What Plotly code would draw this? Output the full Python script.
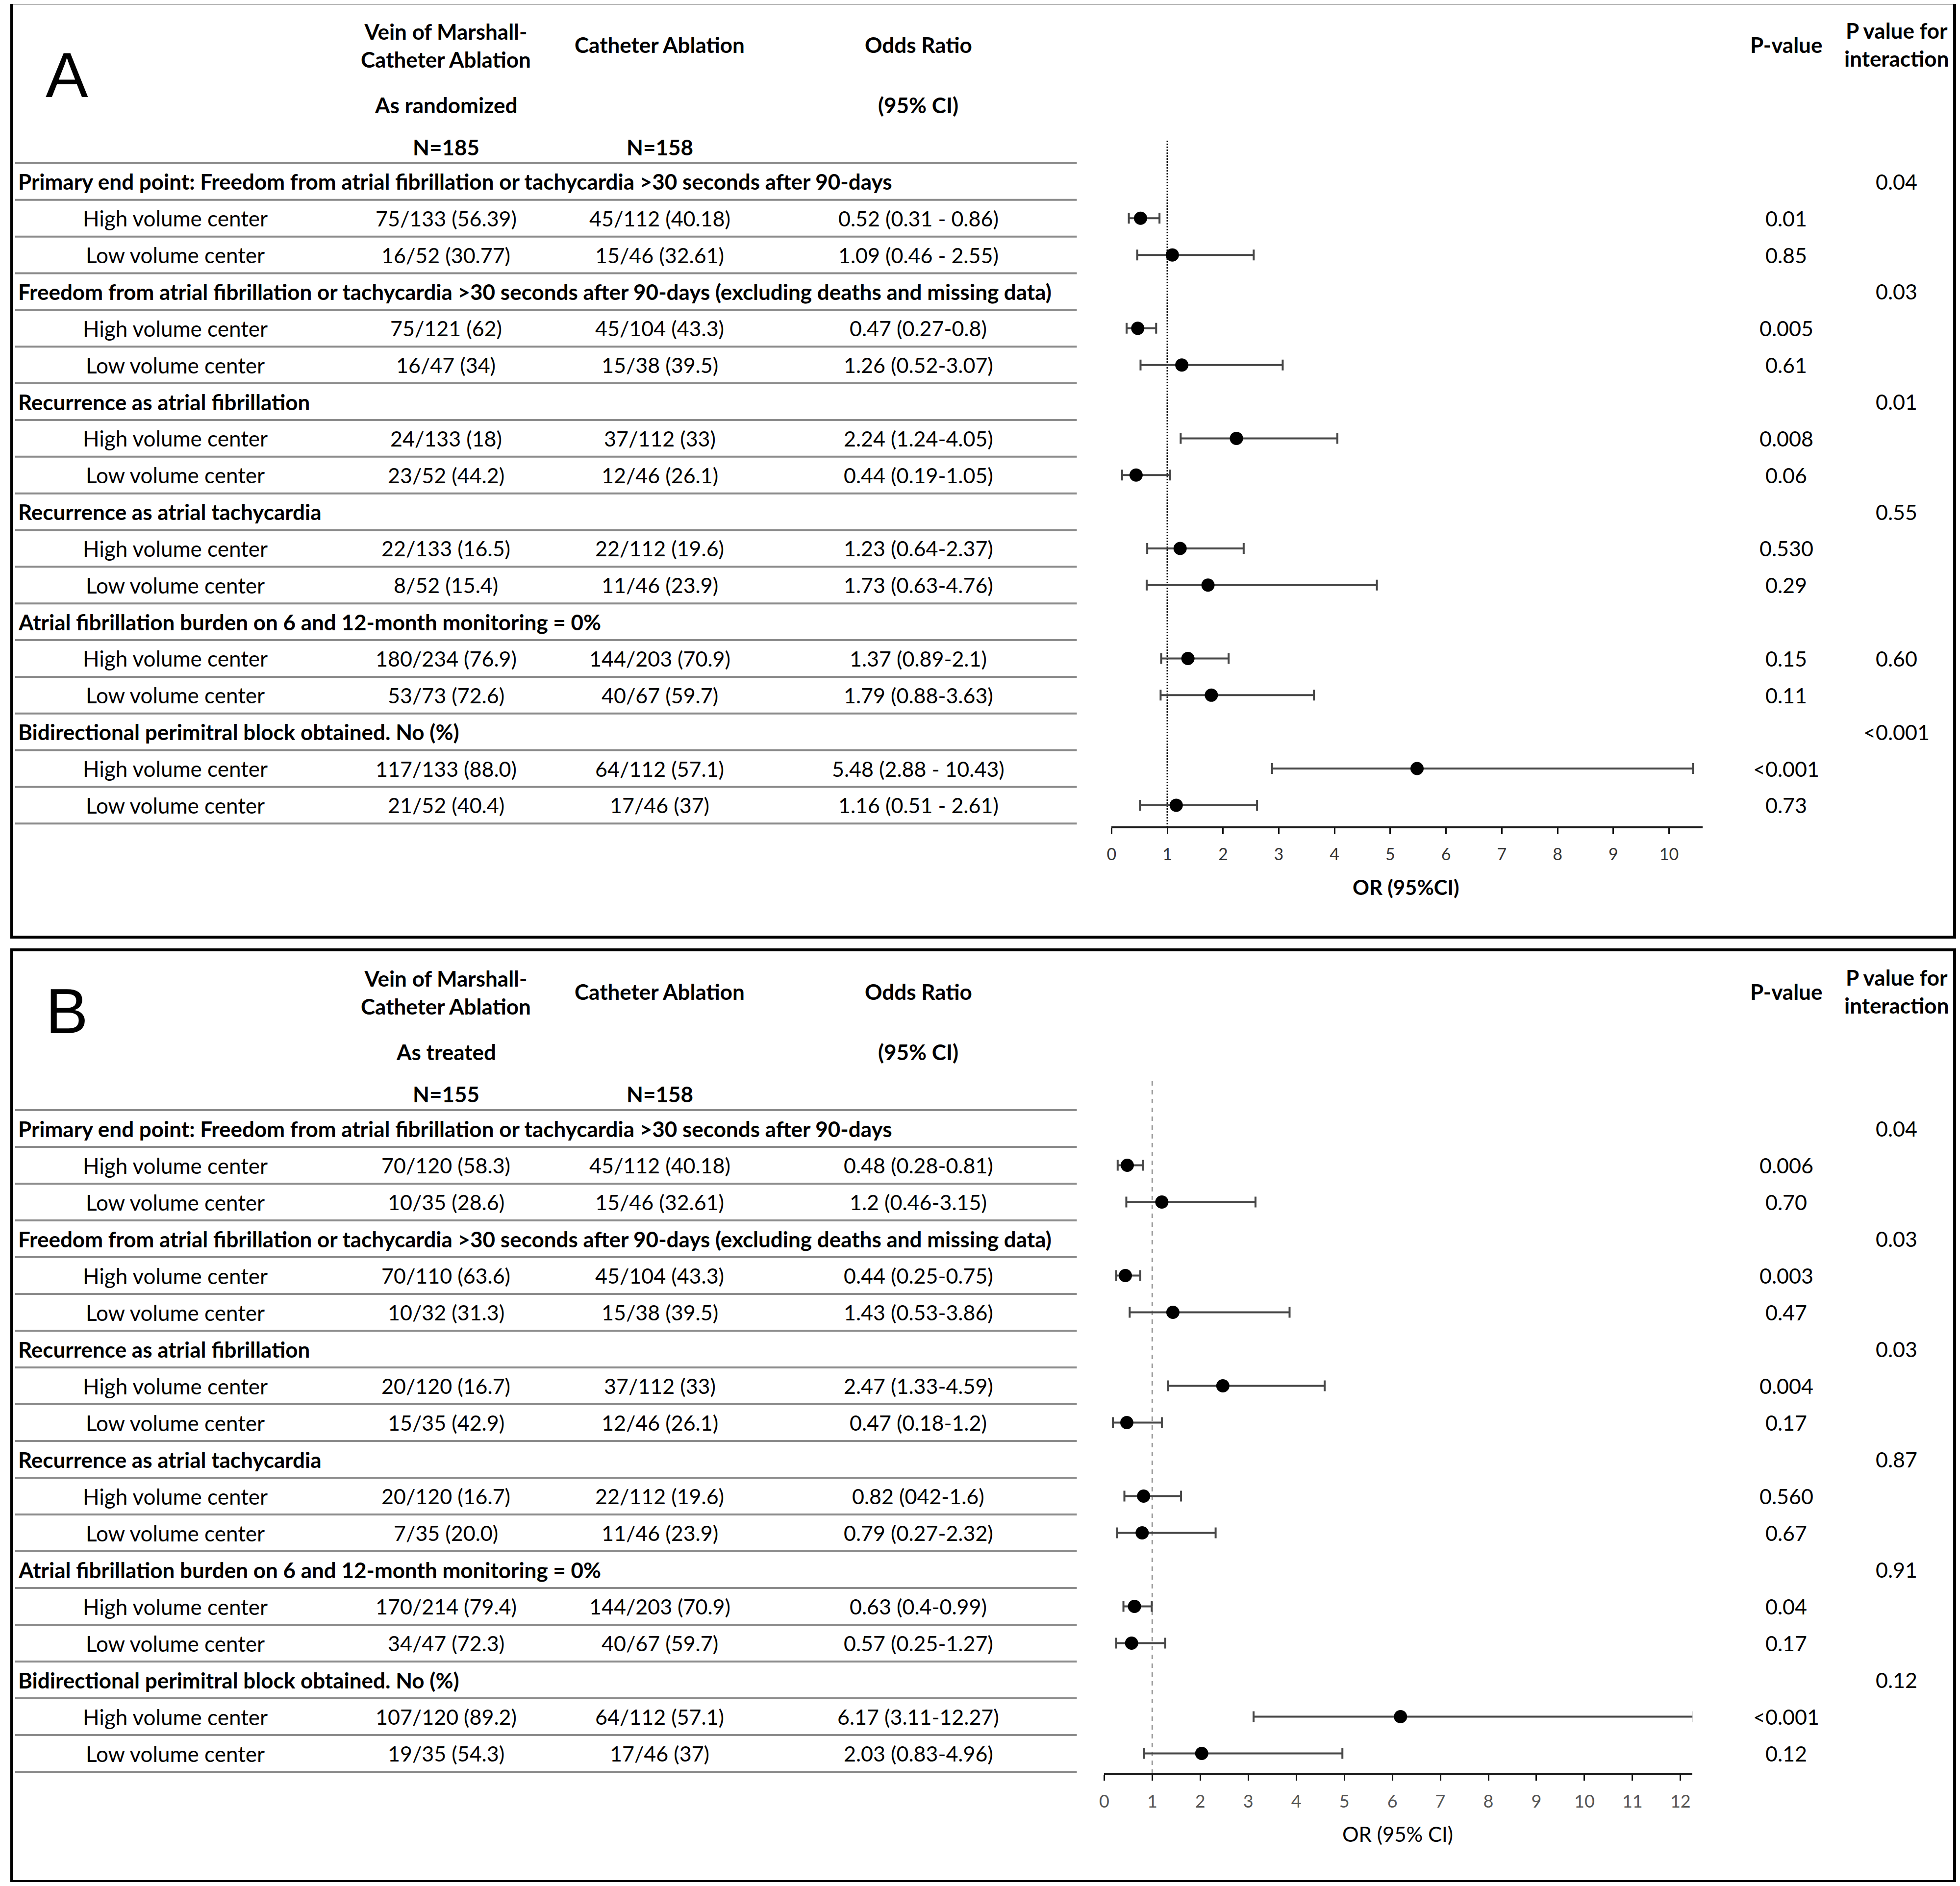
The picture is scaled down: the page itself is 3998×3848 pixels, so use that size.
import plotly.graph_objects as go

# page size and the 8px body margin of the html page
PAGE_W, PAGE_H = 3998, 3848
OFF = 8
W, H = PAGE_W - 2 * OFF, PAGE_H - 2 * OFF

# ---------------- data ----------------
groups = [
    "Primary end point: Freedom from atrial fibrillation or tachycardia &gt;30 seconds after 90-days",
    "Freedom from atrial fibrillation or tachycardia &gt;30 seconds after 90-days (excluding deaths and missing data)",
    "Recurrence as atrial fibrillation",
    "Recurrence as atrial tachycardia",
    "Atrial fibrillation burden on 6 and 12-month monitoring = 0%",
    "Bidirectional perimitral block obtained. No (%)",
]
subgroups = ["High volume center", "Low volume center"]

# Panel A: as randomized
a_vom = ["75/133 (56.39)", "16/52 (30.77)", "75/121 (62)", "16/47 (34)",
         "24/133 (18)", "23/52 (44.2)", "22/133 (16.5)", "8/52 (15.4)",
         "180/234 (76.9)", "53/73 (72.6)", "117/133 (88.0)", "21/52 (40.4)"]
a_ca = ["45/112 (40.18)", "15/46 (32.61)", "45/104 (43.3)", "15/38 (39.5)",
        "37/112 (33)", "12/46 (26.1)", "22/112 (19.6)", "11/46 (23.9)",
        "144/203 (70.9)", "40/67 (59.7)", "64/112 (57.1)", "17/46 (37)"]
a_or_text = ["0.52 (0.31 - 0.86)", "1.09 (0.46 - 2.55)", "0.47 (0.27-0.8)", "1.26 (0.52-3.07)",
             "2.24 (1.24-4.05)", "0.44 (0.19-1.05)", "1.23 (0.64-2.37)", "1.73 (0.63-4.76)",
             "1.37 (0.89-2.1)", "1.79 (0.88-3.63)", "5.48 (2.88 - 10.43)", "1.16 (0.51 - 2.61)"]
a_or = [0.52, 1.09, 0.47, 1.26, 2.24, 0.44, 1.23, 1.73, 1.37, 1.79, 5.48, 1.16]
a_lo = [0.31, 0.46, 0.27, 0.52, 1.24, 0.19, 0.64, 0.63, 0.89, 0.88, 2.88, 0.51]
a_hi = [0.86, 2.55, 0.80, 3.07, 4.05, 1.05, 2.37, 4.76, 2.10, 3.63, 10.43, 2.61]
a_p = ["0.01", "0.85", "0.005", "0.61", "0.008", "0.06", "0.530", "0.29",
       "0.15", "0.11", "&lt;0.001", "0.73"]
a_pint = ["0.04", "0.03", "0.01", "0.55", "0.60", "&lt;0.001"]
a_pint_row = ["group", "group", "group", "group", "high", "group"]

# Panel B: as treated
b_vom = ["70/120 (58.3)", "10/35 (28.6)", "70/110 (63.6)", "10/32 (31.3)",
         "20/120 (16.7)", "15/35 (42.9)", "20/120 (16.7)", "7/35 (20.0)",
         "170/214 (79.4)", "34/47 (72.3)", "107/120 (89.2)", "19/35 (54.3)"]
b_ca = ["45/112 (40.18)", "15/46 (32.61)", "45/104 (43.3)", "15/38 (39.5)",
        "37/112 (33)", "12/46 (26.1)", "22/112 (19.6)", "11/46 (23.9)",
        "144/203 (70.9)", "40/67 (59.7)", "64/112 (57.1)", "17/46 (37)"]
b_or_text = ["0.48 (0.28-0.81)", "1.2 (0.46-3.15)", "0.44 (0.25-0.75)", "1.43 (0.53-3.86)",
             "2.47 (1.33-4.59)", "0.47 (0.18-1.2)", "0.82 (042-1.6)", "0.79 (0.27-2.32)",
             "0.63 (0.4-0.99)", "0.57 (0.25-1.27)", "6.17 (3.11-12.27)", "2.03 (0.83-4.96)"]
b_or = [0.48, 1.20, 0.44, 1.43, 2.47, 0.47, 0.82, 0.79, 0.63, 0.57, 6.17, 2.03]
b_lo = [0.28, 0.46, 0.25, 0.53, 1.33, 0.18, 0.42, 0.27, 0.40, 0.25, 3.11, 0.83]
b_hi = [0.81, 3.15, 0.75, 3.86, 4.59, 1.20, 1.60, 2.32, 0.99, 1.27, 12.27, 4.96]
b_p = ["0.006", "0.70", "0.003", "0.47", "0.004", "0.17", "0.560", "0.67",
       "0.04", "0.17", "&lt;0.001", "0.12"]
b_pint = ["0.04", "0.03", "0.03", "0.87", "0.91", "0.12"]
b_pint_row = ["group", "group", "group", "group", "group", "group"]

# ---------------- layout helpers ----------------
FONT = "Lato"
annotations = []
shapes = []


def px(x):
    return (x - OFF) / W


def py(y):
    return 1 - (y - OFF) / H


def txt(x, y, s, size=43, bold=False, anchor="center", color="black", family=FONT):
    annotations.append(dict(
        x=px(x), y=py(y), xref="paper", yref="paper",
        text=("<b>" + s + "</b>") if bold else s,
        showarrow=False, xanchor=anchor, yanchor="middle", align="center",
        font=dict(family=family, size=size, color=color)))


panels = [
    dict(letter="A", letter_y=153, box=(6, 1912), T=333, step=74.85, sub="As randomized",
         n1="N=185", n2="N=158",
         vom=a_vom, ca=a_ca, ortext=a_or_text, orv=a_or, lo=a_lo, hi=a_hi, p=a_p,
         pint=a_pint, pint_row=a_pint_row,
         ax0=2263, unit=114.0, xmax=10.6, ticks=list(range(0, 11)), axis_y=1688,
         ref_top=286, ref_dash="dot", ref_color="black",
         tick_color="#333333", tick_size=34, xtitle="OR (95%CI)", xtitle_bold=True,
         xtitle_x=2865, xtitle_y=1810),
    dict(letter="B", letter_y=2063, box=(1938, 3839), T=2265, step=75.0, sub="As treated",
         n1="N=155", n2="N=158",
         vom=b_vom, ca=b_ca, ortext=b_or_text, orv=b_or, lo=b_lo, hi=b_hi, p=b_p,
         pint=b_pint, pint_row=b_pint_row,
         ax0=2248, unit=98.2, xmax=12.25, ticks=list(range(0, 13)), axis_y=3619,
         ref_top=2200, ref_dash="dash", ref_color="#9a9a9a",
         tick_color="#555555", tick_size=36, xtitle="OR (95% CI)", xtitle_bold=False,
         xtitle_x=2848, xtitle_y=3742),
]

COL_LABEL, COL_VOM, COL_CA, COL_OR, COL_P, COL_PINT = 348, 902, 1339, 1868, 3643, 3868
traces = []
layout_axes = {}

for i, P in enumerate(panels):
    T, step = P["T"], P["step"]
    # panel border
    y0, y1 = P["box"]
    shapes.append(dict(type="rect", xref="paper", yref="paper",
                       x0=px(14), x1=px(3987), y0=py(y0), y1=py(y1),
                       line=dict(color="black", width=6), layer="above"))
    # letter
    txt(127, P["letter_y"], P["letter"], size=130, family="Liberation Sans")
    # headers
    txt(COL_VOM, T - 241, "Vein of Marshall-<br>Catheter Ablation", size=44, bold=True)
    txt(COL_CA, T - 242, "Catheter Ablation", size=44, bold=True)
    txt(COL_OR, T - 242, "Odds Ratio", size=44, bold=True)
    txt(COL_VOM, T - 119, P["sub"], size=44, bold=True)
    txt(COL_OR, T - 119, "(95% CI)", size=44, bold=True)
    txt(COL_VOM, T - 33, P["n1"], size=44, bold=True)
    txt(COL_CA, T - 33, P["n2"], size=44, bold=True)
    txt(COL_P, T - 242, "P-value", size=44, bold=True)
    txt(COL_PINT, T - 243, "P value for<br>interaction", size=44, bold=True)

    # table lines
    for k in range(19):
        yl = T + step * k
        shapes.append(dict(type="line", xref="paper", yref="paper",
                           x0=px(21), x1=px(2192), y0=py(yl), y1=py(yl),
                           line=dict(color="#8c8c8c", width=4)))

    ycen = []
    for g, gname in enumerate(groups):
        yg = T + step * (3 * g + 0.5)
        txt(25, yg, gname, size=44, bold=True, anchor="left")
        for s, sname in enumerate(subgroups):
            r = 2 * g + s
            yr = T + step * (3 * g + 1.5 + s)
            ycen.append(3 * g + 1.5 + s)
            txt(COL_LABEL, yr, sname, size=44)
            txt(COL_VOM, yr, P["vom"][r])
            txt(COL_CA, yr, P["ca"][r])
            txt(COL_OR, yr, P["ortext"][r])
            txt(COL_P, yr, P["p"][r])
        yint = yg if P["pint_row"][g] == "group" else T + step * (3 * g + 1.5)
        txt(COL_PINT, yint, P["pint"][g])

    # forest plot axes
    xa = "xaxis" if i == 0 else "xaxis2"
    ya = "yaxis" if i == 0 else "yaxis2"
    xref = "x" if i == 0 else "x2"
    yref = "y" if i == 0 else "y2"
    x_end = P["ax0"] + P["unit"] * P["xmax"]
    layout_axes[xa] = dict(
        domain=[px(P["ax0"]), px(x_end)], range=[0, P["xmax"]],
        anchor="free", position=py(P["axis_y"]),
        tickmode="array", tickvals=P["ticks"], ticktext=[str(t) for t in P["ticks"]],
        ticks="outside", ticklen=12, tickwidth=3, tickcolor="#111111",
        showline=True, linewidth=4, linecolor="#1a1a1a",
        showgrid=False, zeroline=False, fixedrange=True,
        tickfont=dict(family=FONT, size=P["tick_size"], color=P["tick_color"]),
        ticklabelstandoff=12)
    layout_axes[ya] = dict(
        domain=[py(T + step * 18), py(T)], range=[18, 0],
        anchor=xref, visible=False, showgrid=False, zeroline=False, fixedrange=True)

    # reference line at OR = 1
    shapes.append(dict(type="line", xref=xref, yref="paper", x0=1, x1=1,
                       y0=py(P["axis_y"]), y1=py(P["ref_top"]),
                       line=dict(color=P["ref_color"], width=3, dash=P["ref_dash"]),
                       layer="below"))

    orv, lo, hi = P["orv"], P["lo"], P["hi"]
    traces.append(go.Scatter(
        x=orv, y=ycen, xaxis=xref, yaxis=yref, mode="markers",
        marker=dict(size=27, color="black"),
        error_x=dict(type="data", symmetric=False,
                     array=[h - o for h, o in zip(hi, orv)],
                     arrayminus=[o - l for o, l in zip(orv, lo)],
                     color="#474747", thickness=4, width=11),
        cliponaxis=False, showlegend=False, hoverinfo="skip"))

    # axis title
    txt(P["xtitle_x"], P["xtitle_y"], P["xtitle"], size=42, bold=P["xtitle_bold"])

fig = go.Figure(data=traces)
fig.update_layout(
    width=W, height=H, margin=dict(l=0, r=0, t=0, b=0),
    paper_bgcolor="white", plot_bgcolor="rgba(0,0,0,0)",
    annotations=annotations, shapes=shapes, showlegend=False,
    **layout_axes)
fig.write_html("out.html")
